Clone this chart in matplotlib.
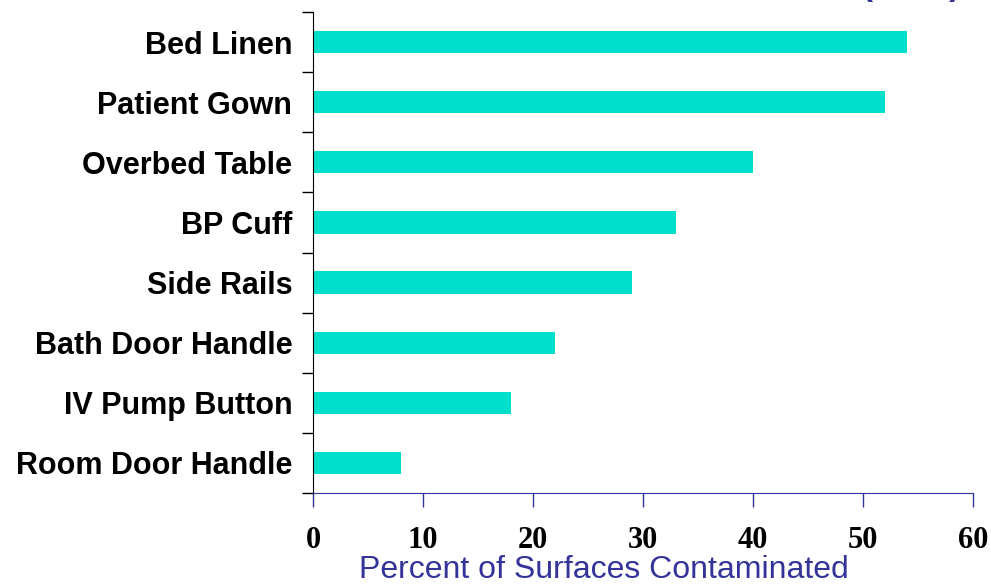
import matplotlib
matplotlib.use('Agg')
import matplotlib.pyplot as plt
import numpy as np

surfaces = ['Bed Linen', 'Patient Gown', 'Overbed Table', 'BP Cuff',
            'Side Rails', 'Bath Door Handle', 'IV Pump Button', 'Room Door Handle']
percent = [54, 52, 40, 33, 29, 22, 18, 8]
xticks = [0, 10, 20, 30, 40, 50, 60]

bar_color = '#00dfcb'
blue = '#33339a'

fig = plt.figure(figsize=(9.91, 5.84), dpi=100)
ax = fig.add_axes([313 / 991, 1 - 493 / 584, 660 / 991, 481 / 584])

pos = np.arange(len(surfaces))
ax.barh(pos, percent, height=0.37, color=bar_color)
ax.set_ylim(len(surfaces) - 0.5, -0.5)
ax.set_xlim(0, 60)

ax.set_yticks(pos)
ax.set_yticklabels(surfaces, fontfamily='Liberation Sans', fontweight='bold', fontsize=22)
ax.tick_params(axis='y', which='major', length=0, pad=15)
ax.set_yticks(np.arange(len(surfaces) + 1) - 0.5, minor=True)
ax.tick_params(axis='y', which='minor', length=8, width=1, color='black')

ax.set_xticks(xticks)
ax.set_xticklabels([str(t) for t in xticks], fontfamily='Liberation Serif',
                   fontweight='bold', fontsize=22)
ax.tick_params(axis='x', length=10, width=1, color=blue, pad=14)

for s in ['top', 'right']:
    ax.spines[s].set_visible(False)
ax.spines['left'].set_color('black')
ax.spines['bottom'].set_color(blue)

# axis title sits left of the axes centre in the original
fig.text(604 / 991, 1 - 578 / 584, 'Percent of Surfaces Contaminated', ha='center',
         va='baseline', fontfamily='Liberation Sans', fontsize=23, color=blue)

# title text cut off at the top edge
fig.text(911 / 991, 1 + 5 / 584, '(n=24)', ha='center', va='baseline',
         fontfamily='Liberation Sans', fontweight='bold', fontsize=24, color=blue)

fig.savefig('out.png', dpi=100)
